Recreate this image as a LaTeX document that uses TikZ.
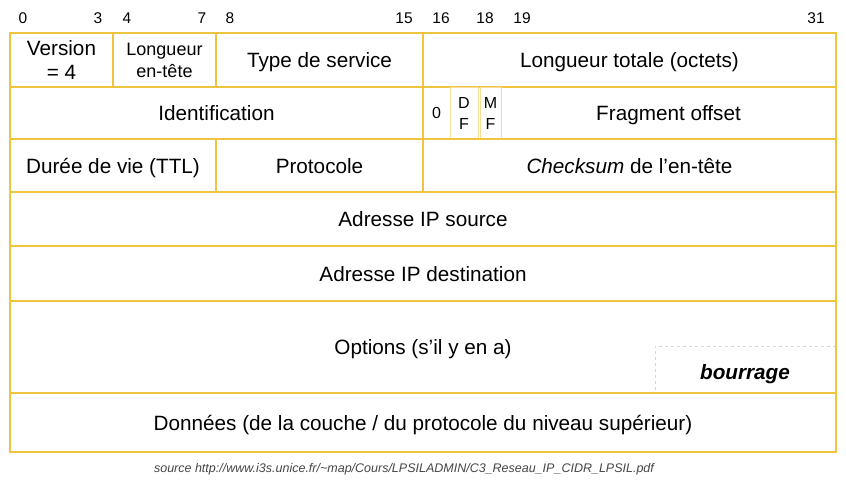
\documentclass[tikz,border=0pt]{standalone}
\usepackage{fontspec}
\setmainfont{Liberation Sans}
\definecolor{gold}{RGB}{240,196,64}
\definecolor{palegold}{RGB}{246,222,150}
\definecolor{dashgrey}{RGB}{215,215,215}
\definecolor{srcgrey}{RGB}{70,70,70}
% one header field: [extra style], name, x1, y1, x2, y2, text
\newcommand\hdrfield[7][]{%
  \node[field, #1, minimum width={#5-#3}, minimum height={#6-#4}]
    (#2) at ({(#3+#5)/2},{(#4+#6)/2}) {#7};}
\begin{document}
\begin{tikzpicture}[x=1pt,y=-1pt,
  field/.style={draw=gold, line width=1.6pt, inner sep=0pt, align=center,
    text depth=0pt, font=\fontsize{20.7}{24}\selectfont},
  flag/.style={draw=palegold, line width=0.9pt, inner sep=0pt, align=center,
    font=\fontsize{16}{21}\selectfont},
  bitno/.style={inner sep=0pt, font=\fontsize{15.5}{18}\selectfont},
  pad/.style={draw=dashgrey, dashed, line width=0.6pt, inner sep=0pt},
]
\useasboundingbox (0,0) rectangle (846,483);
\fill[white] (0,0) rectangle (846,483);

% bit positions
\foreach \n/\x in {0/23,3/98,4/127,7/202,8/230,15/404,16/441,18/485,19/522,31/816}
  \node[bitno] (bit\n) at (\x,18) {\n};

% row 1
\hdrfield{version}{10}{33}{113}{87}{Version\\= 4}
\hdrfield[font=\fontsize{18}{22}\selectfont]{ihl}{113}{33}{216}{87}{Longueur\\en-tête}
\hdrfield{tos}{216}{33}{423}{87}{Type de service}
\hdrfield{totlen}{423}{33}{836}{87}{Longueur totale (octets)}
% row 2
\hdrfield{ident}{10}{87}{423}{139}{Identification}
\hdrfield{fragoff}{423}{87}{836}{139}{\hspace*{78pt}Fragment offset}
\node[flag, draw=none, minimum width=27pt, minimum height=52pt] (zero) at (436.5,113) {0};
\node[flag, minimum width=28pt, minimum height=51pt] (df) at (464,113) {D\\F};
\node[flag, minimum width=21pt, minimum height=51pt] (mf) at (490.5,113) {M\\F};
% row 3
\hdrfield{ttl}{10}{139}{216}{192}{Durée de vie (TTL)}
\hdrfield{proto}{216}{139}{423}{192}{Protocole}
\hdrfield{cksum}{423}{139}{836}{192}{\textit{Checksum} de l’en-tête}
% addresses
\hdrfield{src}{10}{192}{836}{246}{Adresse IP source}
\hdrfield{dst}{10}{246}{836}{301}{Adresse IP destination}
% options with padding
\node[pad, minimum width=181pt, minimum height=47pt] (padbox) at (745.5,369.5) {};
\hdrfield{opts}{10}{301}{836}{393}{Options (s’il y en a)}
\node[text depth=0pt, font=\fontsize{20.7}{24}\selectfont\bfseries\itshape] (bourrage) at (745,372) {bourrage};
% payload
\hdrfield{data}{10}{393}{836}{452}{Données (de la couche / du protocole du niveau supérieur)}

\node[font=\fontsize{12.5}{14}\selectfont\itshape, text=srcgrey] (source) at (404,469)
  {source http://www.i3s.unice.fr/\textasciitilde map/Cours/LPSILADMIN/C3\_Reseau\_IP\_CIDR\_LPSIL.pdf};
\end{tikzpicture}
\end{document}
